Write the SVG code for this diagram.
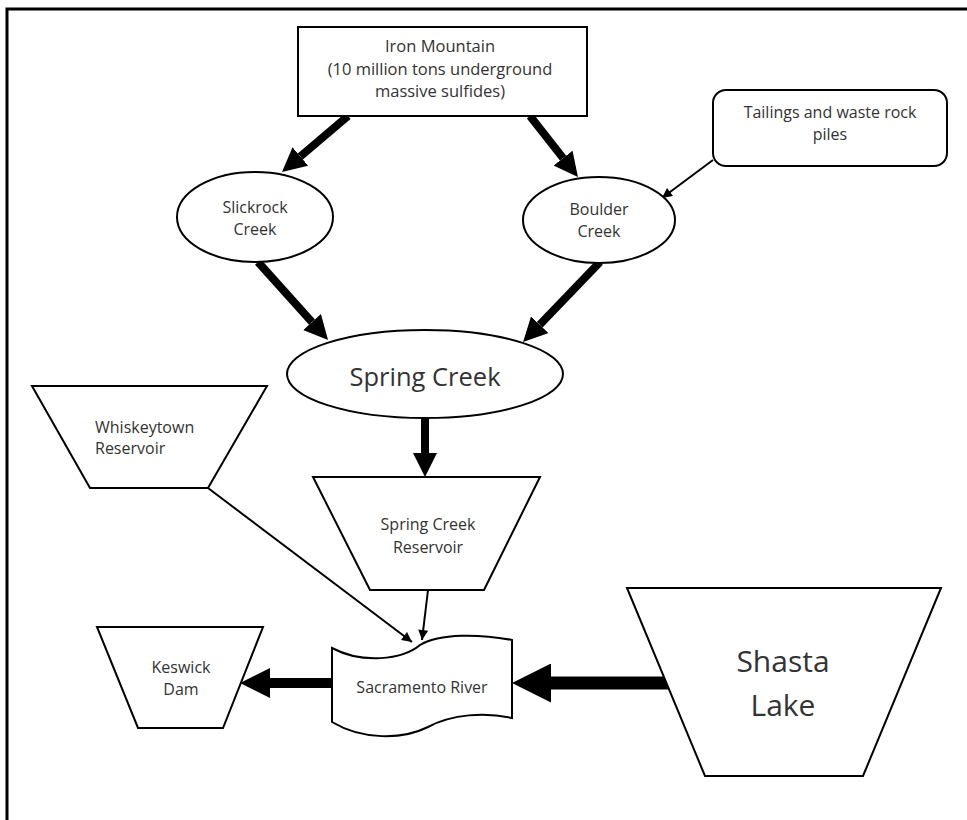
<svg xmlns="http://www.w3.org/2000/svg" width="967" height="820" viewBox="0 0 967 820">
<style>
.shape{fill:#fff;stroke:#000;stroke-width:2}
.t{font-family:"Open Sans","Noto Sans",sans-serif;fill:#333;text-anchor:middle}
.s{font-size:16px}
.thick{stroke:#000;fill:none;marker-end:url(#big)}
.thin{stroke:#000;stroke-width:2;fill:none;marker-end:url(#small)}
</style>
<defs>
<marker id="big" viewBox="0 0 10 10" refX="0" refY="5" markerWidth="3" markerHeight="3" markerUnits="strokeWidth" orient="auto"><path d="M0,0 L10,5 L0,10 z" fill="#000"/></marker>
<marker id="small" viewBox="0 0 10 10" refX="10" refY="5" markerWidth="6" markerHeight="5" markerUnits="strokeWidth" orient="auto"><path d="M0,0 L10,5 L0,10 z" fill="#000"/></marker>
</defs>
<rect width="967" height="820" fill="#fff"/>
<path d="M7,820 V9 H967" fill="none" stroke="#000" stroke-width="3"/>
<g id="connectors">
<line class="thick" stroke-width="8" x1="348" y1="116" x2="300.3" y2="156.5"/>
<line class="thick" stroke-width="8" x1="530" y1="116" x2="563.1" y2="158.1"/>
<line class="thin" x1="713" y1="160" x2="662" y2="198"/>
<line class="thick" stroke-width="8" x1="258" y1="262" x2="312" y2="322.1"/>
<line class="thick" stroke-width="8" x1="600" y1="262" x2="539.7" y2="324.7"/>
<line class="thick" stroke-width="8" x1="425" y1="418" x2="425" y2="453"/>
<line class="thin" x1="208" y1="488" x2="412" y2="642"/>
<line class="thin" x1="428" y1="590" x2="422" y2="640"/>
<line class="thick" stroke-width="10" x1="333" y1="683" x2="270" y2="683"/>
<line class="thick" stroke-width="13" x1="668" y1="683" x2="551" y2="683"/>
</g>
<g id="iron-mountain">
<rect class="shape" x="298" y="27" width="289" height="89"/>
<text class="t" font-size="16.5" x="440" y="52">Iron Mountain</text>
<text class="t" font-size="16.5" x="440" y="75">(10 million tons underground</text>
<text class="t" font-size="16.5" x="440" y="97">massive sulfides)</text>
</g>
<g id="tailings">
<rect class="shape" x="713" y="90" width="234" height="76" rx="13"/>
<text class="t s" x="830" y="118">Tailings and waste rock</text>
<text class="t s" x="830" y="140">piles</text>
</g>
<g id="slickrock">
<ellipse class="shape" cx="255" cy="217" rx="78" ry="45"/>
<text class="t s" x="255" y="213">Slickrock</text>
<text class="t s" x="255" y="235">Creek</text>
</g>
<g id="boulder">
<ellipse class="shape" cx="599" cy="220" rx="76" ry="43"/>
<text class="t s" x="599" y="215">Boulder</text>
<text class="t s" x="599" y="237">Creek</text>
</g>
<g id="spring-creek">
<ellipse class="shape" cx="425" cy="374" rx="138" ry="44"/>
<text class="t" font-size="25.5" x="425" y="386">Spring Creek</text>
</g>
<g id="whiskeytown">
<polygon class="shape" points="32,386 267,386 208,488 90,488"/>
<text class="t s" style="text-anchor:start" x="95" y="433">Whiskeytown</text>
<text class="t s" style="text-anchor:start" x="95" y="454">Reservoir</text>
</g>
<g id="spring-creek-reservoir">
<polygon class="shape" points="313,477 540,477 484,590 370,590"/>
<text class="t s" x="428" y="530">Spring Creek</text>
<text class="t s" x="428" y="553">Reservoir</text>
</g>
<g id="sacramento-river">
<path class="shape" d="M332,648 C362,664 402,660 420,645 C440,633 480,634 512,640 L512,718 C485,712 452,714 428,727 C402,740 362,740 332,722 Z"/>
<text class="t s" x="422" y="693">Sacramento River</text>
</g>
<g id="keswick">
<polygon class="shape" points="97,627 263,627 223,728 138,728"/>
<text class="t s" x="181" y="673">Keswick</text>
<text class="t s" x="181" y="695">Dam</text>
</g>
<g id="shasta">
<polygon class="shape" points="627,588 941,588 863,776 705,776"/>
<text class="t" font-size="30" x="783" y="672">Shasta</text>
<text class="t" font-size="30" x="783" y="716">Lake</text>
</g>
</svg>
